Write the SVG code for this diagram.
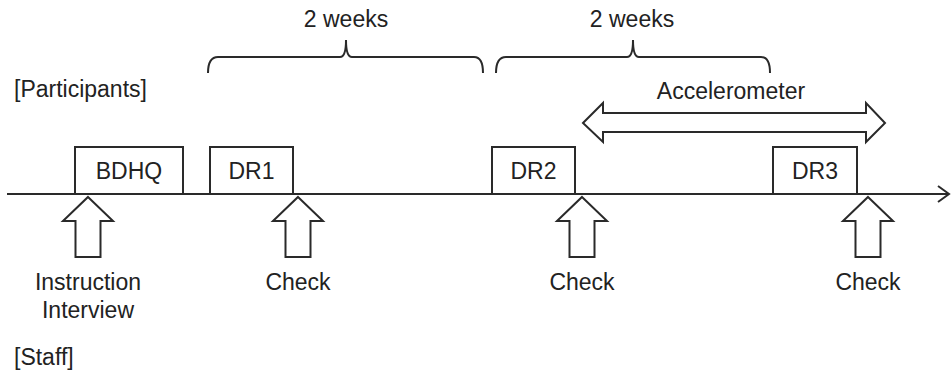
<svg xmlns="http://www.w3.org/2000/svg" width="952" height="376" viewBox="0 0 952 376">
<style>
text{font-family:"Liberation Sans",Arial,sans-serif;font-size:23px;fill:#222}
.c{text-anchor:middle}
.s{fill:none;stroke:#2a2a2a;stroke-width:2}
.b{fill:#fff;stroke:#2a2a2a;stroke-width:2}
</style>
<rect width="952" height="376" fill="#fff"/>
<g id="connectors">
<line class="s" x1="7" y1="194" x2="948" y2="194"/>
<polyline class="s" points="938,186 949,194 938,202"/>
<path id="brace1" class="s" d="M208,73 Q208,57 218,57 L340,57 Q346,57 346,40 Q346,57 352,57 L474,57 Q483,57 483,73"/>
<path id="brace2" class="s" d="M496,73 Q496,57 506,57 L627,57 Q633,57 633,40 Q633,57 639,57 L761,57 Q770,57 770,73"/>
<polygon id="accel" class="b" points="583,123 603,103 603,113 866,113 866,103 885,123 866,142 866,132 603,132 603,142"/>
<polygon class="b" points="88,197 113,221 100.5,221 100.5,257 75.5,257 75.5,221 63,221"/>
<polygon class="b" points="298,197 323,221 310.5,221 310.5,257 285.5,257 285.5,221 273,221"/>
<polygon class="b" points="582,197 607,221 594.5,221 594.5,257 569.5,257 569.5,221 557,221"/>
<polygon class="b" points="868,197 893,221 880.5,221 880.5,257 855.5,257 855.5,221 843,221"/>
</g>
<g id="bdhq"><rect class="b" x="75" y="147" width="108" height="47"/><text class="c" x="129" y="179">BDHQ</text></g>
<g id="dr1"><rect class="b" x="210" y="147" width="83" height="47"/><text class="c" x="251.5" y="179">DR1</text></g>
<g id="dr2"><rect class="b" x="492" y="147" width="83" height="47"/><text class="c" x="533.5" y="179">DR2</text></g>
<g id="dr3"><rect class="b" x="773" y="147" width="84" height="47"/><text class="c" x="815" y="179">DR3</text></g>
<g id="labels">
<text class="c" x="346" y="27">2 weeks</text>
<text class="c" x="632" y="27">2 weeks</text>
<text x="14" y="97">[Participants]</text>
<text class="c" x="731" y="99">Accelerometer</text>
<text class="c" x="88" y="290">Instruction</text>
<text class="c" x="88" y="318">Interview</text>
<text class="c" x="298" y="290">Check</text>
<text class="c" x="582" y="290">Check</text>
<text class="c" x="868" y="290">Check</text>
<text x="14" y="365">[Staff]</text>
</g>
</svg>
